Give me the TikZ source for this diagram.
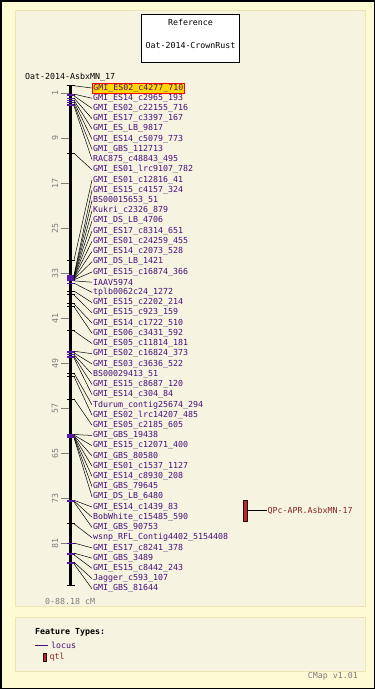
\documentclass[tikz,border=0pt]{standalone}
\usepackage{fontspec}
\usepackage{xcolor}
\usepackage{tikz}
\usetikzlibrary{positioning}
\newfontfamily\cmapfont{DejaVu Sans Mono}
\definecolor{pagebg}{RGB}{253,250,212}
\definecolor{panelbg}{RGB}{246,244,224}
\definecolor{panelrule}{RGB}{236,229,180}
\definecolor{locuscol}{RGB}{70,14,126}
\definecolor{tickcol}{RGB}{84,26,166}
\definecolor{qtlcol}{RGB}{130,36,36}
\definecolor{qtlfill}{RGB}{178,44,44}
\definecolor{scalecol}{RGB}{125,125,125}
\definecolor{hlyellow}{RGB}{255,214,0}
\tikzset{
	mapfont/.style={font=\cmapfont\fontsize{8.3}{9}\selectfont},
	panel/.style={fill=panelbg, draw=panelrule, line width=1pt}
}
\tikzset{
	refbox/.style={draw=black, fill=white, line width=0.8pt, minimum width=98pt, minimum height=48pt},
	plaintext/.style={mapfont, inner sep=0pt, text=black}
}
\tikzset{
	locus/.style={mapfont, anchor=west, inner sep=0pt, text=locuscol},
	locusline/.style={draw=black, line width=0.5pt},
	marktick/.style={line width=1pt},
	chromosome/.style={draw=black, line width=2.6pt},
	barcap/.style={draw=black, line width=1pt},
	scaletick/.style={draw=scalecol, line width=0.8pt},
	scalelabel/.style={mapfont, inner sep=0pt, text=scalecol, rotate=90}
}
\tikzset{
	qtlbox/.style={fill=qtlfill, draw=black!70!qtlcol, line width=0.8pt, minimum width=4pt, minimum height=21pt, inner sep=0pt},
	qtllabel/.style={mapfont, inner sep=0pt, text=qtlcol}
}
\begin{document}
\begin{tikzpicture}[x=1pt, y=-1pt]

	% page and panels
	\useasboundingbox (0,0) rectangle (375,689);
	\filldraw[fill=pagebg, draw=black, line width=1.5pt] (0.75,0.75) rectangle (374.25,688.25);
	\filldraw[panel] (15,10) rectangle (365,606);
	\filldraw[panel] (15,617) rectangle (365,671);

	% reference box
	\node[refbox] (reference) at (190.5,38) {};
	\node[plaintext] (reftitle) at (190.5,22) {Reference};
	\node[plaintext] (refname) at (190.5,45) {Oat-2014-CrownRust};

	% map title
	\node[plaintext, anchor=west] (maptitle) at (25,77) {Oat-2014-AsbxMN\_17};

	% chromosome: 0 cM at \cmzero, \cmstep px per cM
	\newcommand{\barx}{70.5}
	\newcommand{\cmzero}{87.4}
	\newcommand{\cmstep}{5.625}
	\coordinate (bartop) at (\barx,85);
	\coordinate (barbottom) at (\barx,585);
	\draw[chromosome] (bartop) -- (barbottom);
	\draw[barcap] ([xshift=-4pt]bartop) -- ([xshift=4pt]bartop);
	\draw[barcap] ([xshift=-4pt]barbottom) -- ([xshift=4pt]barbottom);

	% scale
	\foreach \cm in {1,9,...,81} {
		\pgfmathsetmacro{\sy}{\cmzero+\cm*\cmstep}
		\draw[scaletick] (61,\sy) -- (69,\sy);
		\node[scalelabel] (s\cm) at (55,\sy) {\cm};
	}
	\node[plaintext, text=scalecol, anchor=west] (range) at (45,601) {0-88.18 cM};

	% first locus (highlighted)
	\coordinate (m1) at (72,85.5);
	\node[locus, fill=hlyellow, draw=red, line width=0.8pt, inner sep=1pt] (l1) at (92,88) {GMI\_ES02\_c4277\_710};
	\draw[locusline] (m1) -- (l1.west);

	% loci: index / cM / tick colour / name
	\foreach \i/\cm/\tc/\name in {
		2/1.2/tickcol/GMI\_ES14\_c2965\_193,
		3/1.5/tickcol/GMI\_ES02\_c22155\_716,
		4/1.9/tickcol/GMI\_ES17\_c3397\_167,
		5/2.3/tickcol/GMI\_ES\_LB\_9817,
		6/2.6/tickcol/GMI\_ES14\_c5079\_773,
		7/3.0/tickcol/GMI\_GBS\_112713,
		8/3.3/tickcol/RAC875\_c48843\_495,
		9/11.7/black/GMI\_ES01\_lrc9107\_782,
		10/30.7/black/GMI\_ES01\_c12816\_41,
		11/33.4/tickcol/GMI\_ES15\_c4157\_324,
		12/33.5/tickcol/BS00015653\_51,
		13/33.6/tickcol/Kukri\_c2326\_879,
		14/33.7/tickcol/GMI\_DS\_LB\_4706,
		15/33.8/tickcol/GMI\_ES17\_c8314\_651,
		16/33.9/tickcol/GMI\_ES01\_c24259\_455,
		17/34.0/tickcol/GMI\_ES14\_c2073\_528,
		18/34.1/tickcol/GMI\_DS\_LB\_1421,
		19/34.2/tickcol/GMI\_ES15\_c16874\_366,
		20/34.4/tickcol/IAAV5974,
		21/34.8/tickcol/tplb0062c24\_1272,
		22/36.2/black/GMI\_ES15\_c2202\_214,
		23/36.9/black/GMI\_ES15\_c923\_159,
		24/38.5/black/GMI\_ES14\_c1722\_510,
		25/39.0/black/GMI\_ES06\_c3431\_592,
		26/43.3/black/GMI\_ES05\_c11814\_181,
		27/46.9/tickcol/GMI\_ES02\_c16824\_373,
		28/47.2/tickcol/GMI\_ES03\_c3636\_522,
		29/47.5/tickcol/BS00029413\_51,
		30/47.8/tickcol/GMI\_ES15\_c8687\_120,
		31/48.1/tickcol/GMI\_ES14\_c304\_84,
		32/50.8/black/Tdurum\_contig25674\_294,
		33/51.4/black/GMI\_ES02\_lrc14207\_485,
		34/55.4/black/GMI\_ES05\_c2185\_605,
		35/61.7/tickcol/GMI\_GBS\_19438,
		36/61.8/tickcol/GMI\_ES15\_c12071\_400,
		37/61.9/tickcol/GMI\_GBS\_80580,
		38/62.0/tickcol/GMI\_ES01\_c1537\_1127,
		39/62.1/tickcol/GMI\_ES14\_c8930\_208,
		40/62.2/tickcol/GMI\_GBS\_79645,
		41/62.3/tickcol/GMI\_DS\_LB\_6480,
		42/73.4/tickcol/GMI\_ES14\_c1439\_83,
		43/73.5/tickcol/BobWhite\_c15485\_590,
		44/73.7/tickcol/GMI\_GBS\_90753,
		45/77.6/black/wsnp\_RFL\_Contig4402\_5154408,
		46/81.0/tickcol/GMI\_ES17\_c8241\_378,
		47/82.8/tickcol/GMI\_GBS\_3489,
		48/83.1/tickcol/GMI\_ES15\_c8442\_243,
		49/84.4/tickcol/Jagger\_c593\_107,
		50/84.7/tickcol/GMI\_GBS\_81644} {
		\pgfmathsetmacro{\my}{\cmzero+\cm*\cmstep}
		\pgfmathsetmacro{\ly}{88+(\i-1)*10.22}
		\draw[marktick, draw=\tc] (67,\my) -- (75,\my);
		\coordinate (m\i) at (74,\my);
		\node[locus] (l\i) at (93,\ly) {\name};
		\draw[locusline] (m\i) -- ([xshift=-1pt]l\i.west);
	}

	% qtl
	\node[qtlbox] (qtlbar) at (245,510.5) {};
	\node[qtllabel, right=20pt of qtlbar] (qtlname) {QPc-APR.AsbxMN-17};
	\draw[locusline, line width=0.8pt] (qtlbar.east) -- (qtlname.west);

	% legend
	\node[plaintext, anchor=west, font=\cmapfont\bfseries\fontsize{8.3}{9}\selectfont] (legtitle) at (35,632) {Feature Types:};
	\coordinate (legline) at (35,645);
	\node[locus] (leglocus) at (51,645) {locus};
	\draw[draw=locuscol, line width=0.8pt] (legline) -- ([xshift=-3pt]leglocus.west);
	\node[qtlbox, minimum height=8pt, minimum width=3pt] (legqtl) at (44.5,657.5) {};
	\node[qtllabel, right=3pt of legqtl] (legqtltext) {qtl};

	\node[plaintext, text=scalecol, anchor=east] (version) at (358,676) {CMap v1.01};

\end{tikzpicture}
\end{document}
